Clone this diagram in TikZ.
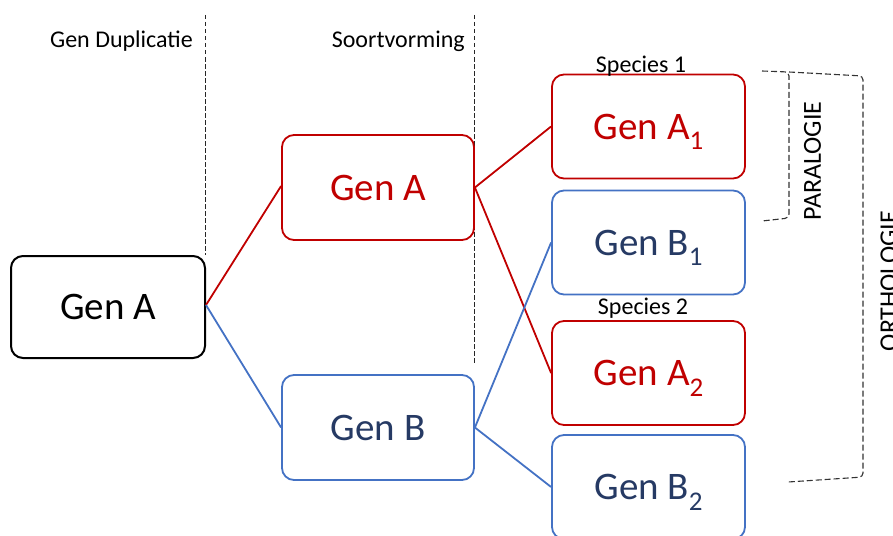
\documentclass[tikz,border=0pt]{standalone}
\usepackage{fontspec}
\setmainfont{Carlito}
\definecolor{genred}{RGB}{192,0,0}
\definecolor{genblue}{RGB}{68,114,196}
\definecolor{gennavy}{RGB}{38,58,100}
\newcommand{\subnum}[1]{\raisebox{-0.28em}[0pt][0pt]{\fontsize{27}{27}\selectfont #1}}
\begin{document}
\begin{tikzpicture}[x=1pt,y=-1pt,
  genbox/.style={draw, rounded corners=12pt, minimum width=193pt, minimum height=104pt, inner sep=0pt, line width=1.8pt, fill=white, font=\fontsize{39}{40}\selectfont},
  redbox/.style={genbox, draw=genred, text=genred},
  bluebox/.style={genbox, draw=genblue, text=gennavy},
  redline/.style={draw=genred, line width=1.8pt},
  blueline/.style={draw=genblue, line width=1.8pt},
  divider/.style={draw=black!85, line width=0.9pt, dash pattern=on 4.5pt off 2.5pt},
  bracket/.style={draw=black!80, line width=1.1pt, dash pattern=on 6pt off 3pt, rounded corners=4pt},
  smalllabel/.style={inner sep=0pt, font=\fontsize{24}{25}\selectfont},
  sidelabel/.style={inner sep=0pt, rotate=90, font=\fontsize{26}{27}\selectfont}
]
\useasboundingbox (0,0) rectangle (893,535);
% dividers
\coordinate (d1t) at (205,15);
\coordinate (d1b) at (205,255);
\coordinate (d2t) at (474,15);
\coordinate (d2b) at (474,363);
\draw[divider] (d1t) -- (d1b);
\draw[divider] (d2t) -- (d2b);
% boxes
\node[genbox, line width=2pt, minimum width=194pt, minimum height=102pt] (gA) at (108,307) {Gen A};
\node[redbox, minimum width=192pt, minimum height=105pt] (mA) at (378,187.5) {Gen A};
\node[bluebox, minimum width=192pt, minimum height=105pt] (mB) at (378,427.5) {Gen B};
\node[redbox] (A1) at (648.5,126.5) {Gen A\subnum{1}};
\node[bluebox] (B1) at (648.5,242.5) {Gen B\subnum{1}};
\node[redbox] (A2) at (648.5,373) {Gen A\subnum{2}};
\node[bluebox] (B2) at (648.5,487) {Gen B\subnum{2}};
% connectors
\coordinate (gAe) at ([yshift=2pt]gA.east);
\draw[redline] (gAe) -- ([yshift=1.5pt]mA.west);
\draw[blueline] (gAe) -- (mB.west);
\draw[redline] (mA.east) -- (A1.west);
\draw[redline] (mA.east) -- (A2.west);
\draw[blueline] (mB.east) -- (B1.west);
\draw[blueline] (mB.east) -- (B2.west);
% labels
\node[smalllabel, anchor=east] (lgd) at (193,41) {Gen Duplicatie};
\node[smalllabel, anchor=east] (lsv) at (465,41) {Soortvorming};
\node[smalllabel] (ls1) at (641,66) {Species 1};
\node[smalllabel] (ls2) at (643,308) {Species 2};
% brackets
\coordinate (p1) at (762,71);
\coordinate (p2) at (789,72);
\coordinate (p3) at (789,218);
\coordinate (p4) at (762,221);
\draw[bracket] (p1) -- (p2) -- (p3) -- (p4);
\coordinate (o1) at (789,72);
\coordinate (o2) at (863,76);
\coordinate (o3) at (863,477);
\coordinate (o4) at (788,482);
\draw[bracket] (o1) -- (o2) -- (o3) -- (o4);
\node[sidelabel] (lpar) at (812.5,161) {PARALOGIE};
\node[sidelabel] (lort) at (889,281) {ORTHOLOGIE};
\end{tikzpicture}
\end{document}
